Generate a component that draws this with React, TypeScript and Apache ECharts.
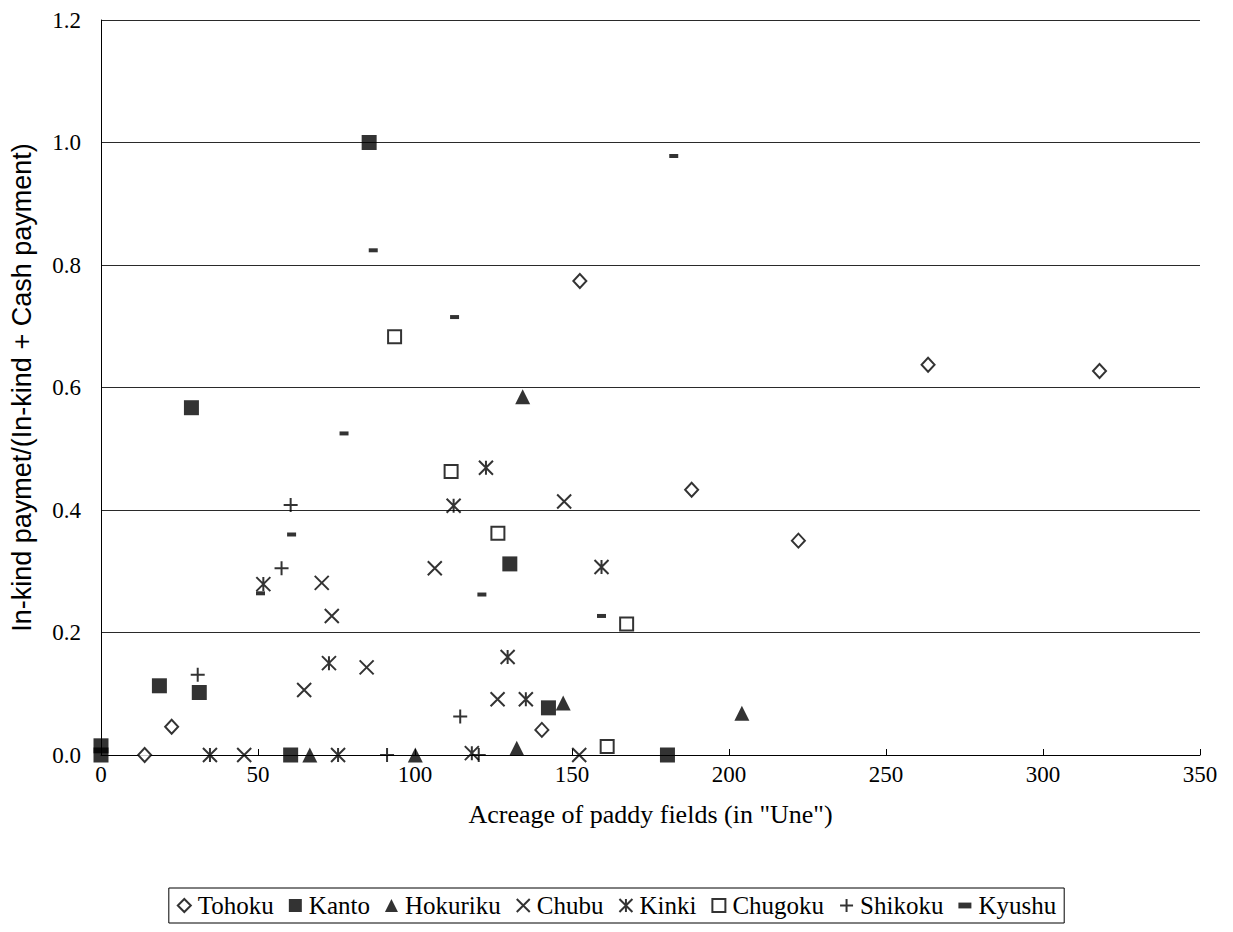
import React, { useEffect, useRef } from "react";
import * as echarts from "echarts";

const seriesNames = ["Tohoku", "Kanto", "Hokuriku", "Chubu", "Kinki", "Chugoku", "Shikoku", "Kyushu"];

const tohokuX = [13.9, 22.5, 140.4, 152.5, 188.1, 222.1, 263.4, 318.0];
const tohokuY = [0, 0.046, 0.041, 0.774, 0.433, 0.35, 0.637, 0.627];

const kantoX = [0, 0, 18.6, 31.3, 28.8, 85.4, 130.2, 142.5, 60.4, 180.4];
const kantoY = [0.015, 0, 0.113, 0.102, 0.567, 1.0, 0.312, 0.077, 0, 0];

const hokurikuX = [66.5, 100.1, 132.4, 147.2, 134.3, 204.1];
const hokurikuY = [0, 0, 0.011, 0.085, 0.585, 0.068];

const chubuX = [45.6, 70.3, 73.5, 64.7, 84.6, 106.3, 126.3, 152.3, 147.5];
const chubuY = [0, 0.281, 0.227, 0.106, 0.143, 0.305, 0.091, 0, 0.414];

const kinkiX = [34.7, 51.7, 72.6, 75.5, 118.1, 129.5, 135.3, 159.4, 122.6, 112.3];
const kinkiY = [0, 0.279, 0.15, 0, 0.003, 0.16, 0.091, 0.307, 0.469, 0.407];

const chugokuX = [126.4, 167.4, 161.2, 111.5, 93.5];
const chugokuY = [0.362, 0.214, 0.014, 0.463, 0.683];

const shikokuX = [60.4, 57.5, 30.8, 91.1, 114.4, 120.3];
const shikokuY = [0.408, 0.305, 0.131, 0, 0.063, 0];

const kyushuX = [50.8, 60.7, 121.3, 159.4, 77.4, 86.7, 112.6, 182.4];
const kyushuY = [0.264, 0.36, 0.262, 0.227, 0.525, 0.824, 0.715, 0.978];

const xTicks = [0, 50, 100, 150, 200, 250, 300, 350];
const yTicks = [0, 0.2, 0.4, 0.6, 0.8, 1.0, 1.2];

const xTitle = 'Acreage of paddy fields (in "Une")';
const yTitle = "In-kind paymet/(In-kind + Cash payment)";

const zip = (xs: number[], ys: number[]) => xs.map((x, i) => [x, ys[i]]);

const SERIF = "'Liberation Serif', 'Times New Roman', serif";
const SANS = "'Liberation Sans', Arial, sans-serif";

const X_PATH = "path://M0 0L10 10M10 0L0 10";
const AST_PATH = "path://M0 0L10 10M10 0L0 10M5 0L5 10";
const PLUS_PATH = "path://M0 5L10 5M5 0L5 10";
const DASH_PATH = "path://M0 0H10V4.5H0Z";

export default function App() {
  const ref = useRef<HTMLDivElement>(null);

  useEffect(() => {
    if (!ref.current) return;
    const chart = echarts.init(ref.current, undefined, { renderer: "svg" });

    const filled = { color: "#000", borderWidth: 0 };
    const hollow = { color: "#fff", borderColor: "#000", borderWidth: 2 };
    const stroke = { color: "rgba(0,0,0,0)", borderColor: "#000", borderWidth: 2 };

    const defs = [
      { data: zip(tohokuX, tohokuY), symbol: "diamond", size: [13, 14], style: hollow, icon: undefined },
      { data: zip(kantoX, kantoY), symbol: "rect", size: 15, style: filled, icon: undefined },
      { data: zip(hokurikuX, hokurikuY), symbol: "triangle", size: 15, style: filled, icon: undefined },
      { data: zip(chubuX, chubuY), symbol: X_PATH, size: 14, style: stroke, icon: undefined },
      { data: zip(kinkiX, kinkiY), symbol: AST_PATH, size: 14, style: stroke, icon: undefined },
      { data: zip(chugokuX, chugokuY), symbol: "rect", size: 13, style: hollow, icon: undefined },
      { data: zip(shikokuX, shikokuY), symbol: PLUS_PATH, size: 14, style: stroke, icon: undefined },
      { data: zip(kyushuX, kyushuY), symbol: "rect", size: [9, 4], style: filled, icon: DASH_PATH },
    ];

    const series = defs.map((d, i) => ({
      name: seriesNames[i],
      type: "scatter",
      data: d.data,
      symbol: d.symbol,
      symbolSize: d.size,
      itemStyle: d.style,
      z: 2 + i,
    }));

    const legendData = seriesNames.map((n, i) =>
      defs[i].icon ? { name: n, icon: defs[i].icon } : { name: n }
    );

    chart.setOption({
      animation: false,
      backgroundColor: "#fff",
      grid: { left: 98, right: 33, top: 20, bottom: 177, containLabel: false },
      xAxis: {
        type: "value",
        min: xTicks[0],
        max: xTicks[xTicks.length - 1],
        interval: 50,
        axisLine: { show: true, lineStyle: { color: "#000", width: 1 } },
        axisTick: { show: true, inside: true, length: 6, lineStyle: { color: "#000" } },
        splitLine: { show: false },
        axisLabel: { color: "#000", fontFamily: SERIF, fontSize: 23, margin: 8 },
        name: xTitle,
        nameLocation: "middle",
        nameGap: 46,
        nameTextStyle: { color: "#000", fontFamily: SERIF, fontSize: 26 },
      },
      yAxis: {
        type: "value",
        min: yTicks[0],
        max: yTicks[yTicks.length - 1],
        interval: 0.2,
        axisLine: { show: true, lineStyle: { color: "#000", width: 1 } },
        axisTick: { show: false },
        splitLine: { show: true, lineStyle: { color: "#2a2a2a", width: 1 } },
        axisLabel: {
          color: "#000",
          fontFamily: SERIF,
          fontSize: 23,
          margin: 20,
          formatter: (v: number) => v.toFixed(1),
        },
        name: yTitle,
        nameLocation: "middle",
        nameRotate: 90,
        nameGap: 66,
        nameTextStyle: { color: "#000", fontFamily: SANS, fontSize: 27 },
      },
      legend: {
        data: legendData,
        left: "center",
        top: 888,
        orient: "horizontal",
        borderColor: "#000",
        borderWidth: 1,
        padding: [5, 8, 5, 8],
        itemGap: 15,
        itemWidth: 13,
        itemHeight: 13,
        textStyle: { color: "#000", fontFamily: SERIF, fontSize: 25, padding: [0, 0, 0, 2] },
      },
      series,
    });

    return () => chart.dispose();
  }, []);

  return <div ref={ref} style={{ width: 1233, height: 932, margin: -8 }} />;
}
